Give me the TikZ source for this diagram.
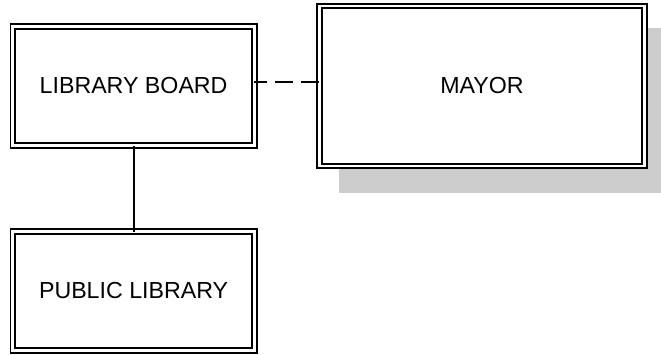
\documentclass[tikz,border=0pt]{standalone}
\usepackage{fontspec}
\setmainfont{Liberation Sans}
\usetikzlibrary{positioning, backgrounds}
\definecolor{shadowgray}{RGB}{204,204,204}
\tikzset{
    orgbox/.style={rectangle, draw=black, fill=white, double, double distance=2.6pt, line width=1.9pt, outer sep=0pt, inner sep=0pt, align=center, font=\fontsize{23.2}{28}\selectfont},
    solidlink/.style={black, line width=2.2pt},
    dashlink/.style={black, line width=2.2pt, dash pattern=on 18pt off 8pt},
}

\begin{document}
\begin{tikzpicture}[
    x=1pt, y=-1pt,
    smallbox/.style={orgbox, minimum width=241.75pt, minimum height=119pt},
    bigbox/.style={orgbox, minimum width=325pt, minimum height=160pt}
]
\useasboundingbox (0,0) rectangle (661,354);

% Boxes
\node[smallbox] (board) at (133.6,86) {LIBRARY BOARD};
\node[bigbox, right=65pt of board] (mayor) {MAYOR};
\node[smallbox, below=86pt of board] (library) {PUBLIC LIBRARY};

% Shadow behind the mayor box
\begin{scope}[on background layer]
\fill[shadowgray] ([xshift=19.5pt, yshift=-21.5pt]mayor.north west) rectangle ([xshift=26.5pt, yshift=-26.5pt]mayor.south east);
\end{scope}

% Links
\draw[solidlink] (board.south) -- (library.north);
\coordinate (dash-end) at ([yshift=4pt]mayor.west);
\draw[dashlink] (dash-end) -- (dash-end -| board.east);

\end{tikzpicture}
\end{document}
